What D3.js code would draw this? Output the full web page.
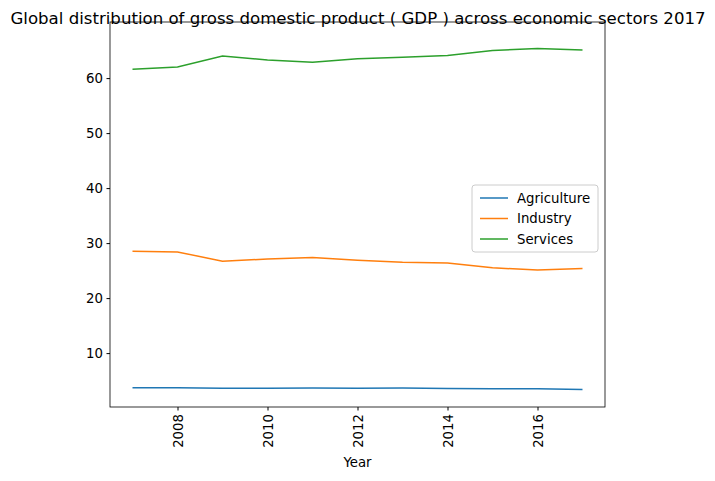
<!DOCTYPE html>
<html><head><meta charset="utf-8">
<script src="https://cdn.jsdelivr.net/npm/d3@7"></script>
<style>body{margin:0;background:#fff}text{font-family:"DejaVu Sans",sans-serif}</style>
</head><body><svg id="c" width="715" height="481"></svg>
<script>
const years=[2007,2008,2009,2010,2011,2012,2013,2014,2015,2016,2017];
const agriculture=[3.7,3.7,3.6,3.6,3.65,3.6,3.65,3.55,3.5,3.5,3.4];
const industry=[28.5,28.4,26.7,27.1,27.4,26.9,26.5,26.4,25.5,25.1,25.4];
const services=[61.6,62.0,64.0,63.3,62.9,63.5,63.8,64.1,65.0,65.4,65.1];
const xTicks=[2008,2010,2012,2014,2016];
const yTicks=[10,20,30,40,50,60];
const series=[{name:"Agriculture",v:agriculture,c:"#1f77b4"},{name:"Industry",v:industry,c:"#ff7f0e"},{name:"Services",v:services,c:"#2ca02c"}];
const svg=d3.select("#c");
const L=110,R=605,T=22,B=407;
const x=d3.scaleLinear().domain([2006.5,2017.5]).range([L,R]);
const y=d3.scaleLinear().domain([0.2,70.2]).range([B,T]);
svg.append("text").attr("x",358).attr("y",24).attr("text-anchor","middle").attr("font-size",16.6).text("Global distribution of gross domestic product ( GDP ) across economic sectors 2017");
const line=d3.line();
series.forEach(s=>{svg.append("path").attr("fill","none").attr("stroke",s.c).attr("stroke-width",1.5)
 .attr("d",line(years.map((yr,i)=>[x(yr),y(s.v[i])])));});
const xa=svg.append("g").attr("transform",`translate(0,${B})`).call(d3.axisBottom(x).tickValues(xTicks).tickFormat(d3.format("d")).tickSize(3.5).tickPadding(3.5));
xa.selectAll("text").attr("font-size",13.3).attr("transform","rotate(-90)").attr("text-anchor","end").attr("x",0).attr("y",0).attr("dx",-7).attr("dy",4.5);
const ya=svg.append("g").attr("transform",`translate(${L},0)`).call(d3.axisLeft(y).tickValues(yTicks).tickSize(3.5).tickPadding(3.5));
ya.selectAll("text").attr("font-size",13.3);
[xa,ya].forEach(a=>{a.select(".domain").remove();a.selectAll("line").attr("stroke","#000");a.selectAll("text").attr("fill","#000").attr("font-family","DejaVu Sans");});
svg.append("rect").attr("x",L).attr("y",T).attr("width",R-L).attr("height",B-T).attr("fill","none").attr("stroke","#000").attr("stroke-width",0.8);
svg.append("text").attr("x",(L+R)/2).attr("y",467).attr("text-anchor","middle").attr("font-size",13.3).text("Year");
const lg=svg.append("g").attr("transform","translate(472,185)");
lg.append("rect").attr("width",126).attr("height",67).attr("rx",3).attr("fill","#fff").attr("stroke","#ccc");
series.forEach((s,i)=>{const yy=13+i*20.5;
 lg.append("line").attr("x1",8).attr("x2",36).attr("y1",yy).attr("y2",yy).attr("stroke",s.c).attr("stroke-width",1.5);
 lg.append("text").attr("x",45).attr("y",yy+4.5).attr("font-size",13.3).text(s.name);});
</script></body></html>
